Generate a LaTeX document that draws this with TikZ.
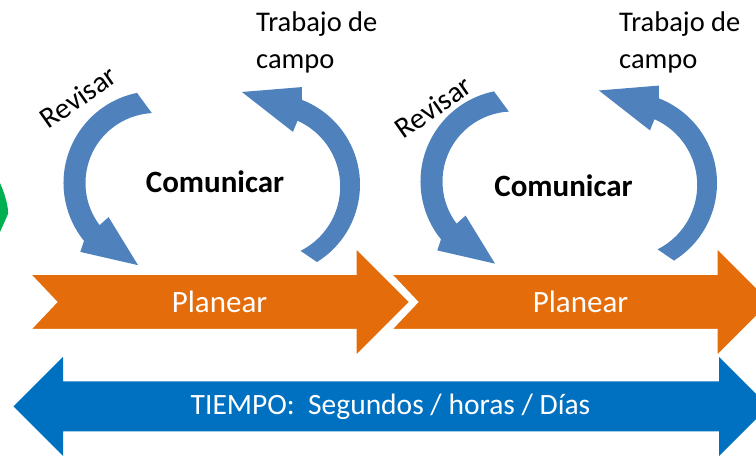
\documentclass[tikz,border=0pt]{standalone}
\usepackage{fontspec}
\setmainfont{Carlito}
\definecolor{arcblue}{HTML}{4F81BD}
\definecolor{planorange}{HTML}{E46C0A}
\definecolor{timeblue}{HTML}{0070C0}
\definecolor{leafgreen}{HTML}{00B050}
\begin{document}
\begin{tikzpicture}[>=latex,line join=bevel,
  bigtxt/.style={inner sep=0pt,font=\fontsize{31bp}{37bp}\selectfont},
  smalltxt/.style={inner sep=0pt,font=\fontsize{28.5bp}{37.5bp}\selectfont},
  planarrow/.style={fill=planorange,draw=white,line width=3bp,line join=miter},
  turnarrow/.style={fill=arcblue},
  ]
%%
\useasboundingbox (0bp,0bp) rectangle (756bp,457bp);
\clip (0bp,0bp) rectangle (756bp,457bp);
% green piece at the edge
\fill [leafgreen] (0bp,274bp) .. controls (4bp,265bp) and (8bp,253bp) .. (8bp,245bp) -- (8bp,243bp) -- (0bp,225bp) -- cycle;
% time arrow
\fill [timeblue] (13.5bp,50.5bp) -- (63bp,100bp) -- (63bp,75.5bp) -- (719bp,75.5bp) -- (719bp,100bp) -- (768.5bp,50.5bp) -- (719bp,1bp) -- (719bp,25.5bp) -- (63bp,25.5bp) -- (63bp,1bp) -- cycle;
\node (time_0) at (390.5bp,42bp) [bigtxt,anchor=base,text=white,font=\fontsize{29.5bp}{35bp}\selectfont] {TIEMPO:~ Segundos / horas / Días};
% plan arrows
\draw [planarrow] (28.5bp,183.5bp) -- (355bp,183.5bp) -- (355bp,211bp) -- (411bp,155bp) -- (355bp,99bp) -- (355bp,126.5bp) -- (28.5bp,126.5bp) -- (55.5bp,155bp) -- cycle;
  \draw [planarrow] (389.5bp,183.5bp) -- (716bp,183.5bp) -- (716bp,211bp) -- (772bp,155bp) -- (716bp,99bp) -- (716bp,126.5bp) -- (389.5bp,126.5bp) -- (416.5bp,155bp) -- cycle;
\node (plan_1) at (219.5bp,144bp) [bigtxt,anchor=base,text=white] {Planear};
  \node (plan_2) at (580.5bp,144bp) [bigtxt,anchor=base,text=white] {Planear};
% turning arrows, first loop
\fill [turnarrow,shift={(155.5bp,274bp)}] (101.6:92bp) arc [start angle=101.6,end angle=219,radius=92bp] -- (222.5:102bp) -- (258:84bp) -- (216:58bp) -- (217:70bp) arc [start angle=217,end angle=93,radius=70bp] -- cycle;
\fill [turnarrow,shift={(269bp,272.3bp)}] (-58.2:91bp) arc [start angle=-58.2,end angle=68.8,radius=91bp] -- (71.4:103bp) -- (106.3:96.6bp) -- (65.6:58bp) -- (66:70bp) arc [start angle=66,end angle=-63.3,radius=72bp] -- cycle;
% turning arrows, second loop
\fill [turnarrow,shift={(512.5bp,275.5bp)}] (101.6:92bp) arc [start angle=101.6,end angle=219,radius=92bp] -- (222.5:102bp) -- (258:84bp) -- (216:58bp) -- (217:70bp) arc [start angle=217,end angle=93,radius=70bp] -- cycle;
\fill [turnarrow,shift={(626bp,273.8bp)}] (-58.2:91bp) arc [start angle=-58.2,end angle=68.8,radius=91bp] -- (71.4:103bp) -- (106.3:96.6bp) -- (65.6:58bp) -- (66:70bp) arc [start angle=66,end angle=-63.3,radius=72bp] -- cycle;
% labels
\node (comm_1) at (215bp,264bp) [bigtxt,anchor=base,font=\bfseries\fontsize{31bp}{37bp}\selectfont] {Comunicar};
  \node (comm_2) at (563.5bp,260bp) [bigtxt,anchor=base,font=\bfseries\fontsize{31bp}{37bp}\selectfont] {Comunicar};
\node (rev_1) at (78bp,360bp) [smalltxt,rotate=35,font=\fontsize{29.5bp}{36bp}\selectfont] {Revisar};
  \node (rev_2) at (433bp,350bp) [smalltxt,rotate=35,font=\fontsize{29.5bp}{36bp}\selectfont] {Revisar};
\node (trab_1) at (256bp,445.5bp) [smalltxt,anchor=north west,align=left] {Trabajo de\\campo};
  \node (trab_2) at (619bp,445.5bp) [smalltxt,anchor=north west,align=left] {Trabajo de\\campo};
%
\end{tikzpicture}
\end{document}
